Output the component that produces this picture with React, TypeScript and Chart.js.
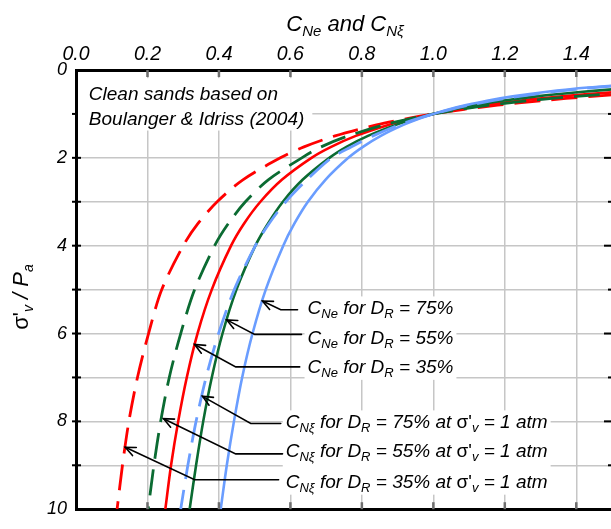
import React, { useEffect, useRef } from 'react';
import { Chart, registerables } from 'chart.js';

Chart.register(...registerables);

// ---- Data ----
// vertical effective stress sigma'v / Pa at which each curve was read
const stressLevels = [0.3, 0.4, 0.5, 0.6, 0.7, 0.8, 0.9, 1, 1.1, 1.25, 1.5, 1.75, 2, 2.5, 3, 3.5, 4, 5, 6, 7, 8, 9, 10];
// C_Ne curves (solid)
const cNeDr35 = [2.064, 1.736, 1.518, 1.360, 1.240, 1.144, 1.065, 1, 0.944, 0.874, 0.783, 0.714, 0.659, 0.576, 0.516, 0.470, 0.434, 0.380, 0.340, 0.310, 0.286, 0.266, 0.250];
const cNeDr55 = [1.819, 1.577, 1.411, 1.289, 1.194, 1.117, 1.054, 1, 0.954, 0.895, 0.817, 0.757, 0.709, 0.634, 0.579, 0.537, 0.502, 0.449, 0.410, 0.380, 0.356, 0.336, 0.318];
const cNeDr75 = [1.605, 1.433, 1.313, 1.222, 1.150, 1.092, 1.042, 1, 0.963, 0.916, 0.853, 0.803, 0.762, 0.698, 0.649, 0.611, 0.580, 0.531, 0.494, 0.465, 0.442, 0.422, 0.405];
// C_Nxi curves (dashed)
const cNxiDr35 = [2.23, 1.879, 1.631, 1.444, 1.299, 1.180, 1.082, 1, 0.930, 0.841, 0.725, 0.638, 0.572, 0.467, 0.395, 0.341, 0.300, 0.240, 0.203, 0.172, 0.148, 0.130, 0.115];
const cNxiDr55 = [2.19, 1.819, 1.576, 1.400, 1.266, 1.159, 1.072, 1, 0.939, 0.862, 0.762, 0.686, 0.632, 0.538, 0.474, 0.426, 0.388, 0.332, 0.293, 0.261, 0.237, 0.218, 0.202];
const cNxiDr75 = [1.606, 1.449, 1.332, 1.240, 1.165, 1.101, 1.047, 1, 0.958, 0.904, 0.831, 0.771, 0.715, 0.646, 0.587, 0.540, 0.502, 0.443, 0.399, 0.364, 0.336, 0.313, 0.293];

const xTickValues = [0, 0.2, 0.4, 0.6, 0.8, 1.0, 1.2, 1.4];
const xTickLabels = ['0.0', '0.2', '0.4', '0.6', '0.8', '1.0', '1.2', '1.4'];
const xMax = 1.5;
const yTickLabels = [0, 2, 4, 6, 8, 10];
const drLabels = ['75%', '55%', '35%'];
const noteLines = ['Clean sands based on', 'Boulanger & Idriss (2004)'];

// ---- Annotation placement (data units) ----
const noteAt = { x: 0.036, y: [0.687, 1.242] };
const cNeTextAt = { x: 0.648, y: [5.565, 6.231, 6.896] };
const cNxiTextAt = { x: 0.587, y: [8.16, 8.82, 9.51] };
const cNeArrows = [
  { x0: 0.620, x1: 0.573, y: 5.46, tip: [0.522, 5.26] },
  { x0: 0.631, x1: 0.500, y: 6.02, tip: [0.422, 5.69] },
  { x0: 0.626, x1: 0.447, y: 6.76, tip: [0.332, 6.25] },
];
const cNxiArrows = [
  { x0: 0.573, x1: 0.489, y: 8.05, tip: [0.354, 7.43] },
  { x0: 0.578, x1: 0.447, y: 8.74, tip: [0.245, 7.94] },
  { x0: 0.567, x1: 0.332, y: 9.33, tip: [0.138, 8.59] },
];

const RED = '#ff0000';
const GREEN = '#0b6b32';
const BLUE = '#6a9dff';
const GRID = '#c6c6c6';
const FAM = '"Liberation Sans", Arial, sans-serif';
const F = (size: number, italic = true) => `${italic ? 'italic ' : ''}${size}px ${FAM}`;

type Run = { t: string; font: string; dy?: number };

function runsWidth(ctx: CanvasRenderingContext2D, runs: Run[]) {
  let w = 0;
  for (const r of runs) { ctx.font = r.font; w += ctx.measureText(r.t).width; }
  return w;
}
function drawRuns(ctx: CanvasRenderingContext2D, runs: Run[], x: number, y: number) {
  let cx = x;
  for (const r of runs) {
    ctx.font = r.font;
    ctx.fillText(r.t, cx, y + (r.dy || 0));
    cx += ctx.measureText(r.t).width;
  }
  return cx - x;
}

function cNeRuns(dr: string): Run[] {
  return [
    { t: 'C', font: F(19) },
    { t: 'Ne', font: F(13), dy: 4 },
    { t: ' for D', font: F(19) },
    { t: 'R', font: F(13), dy: 4 },
    { t: ' = ' + dr, font: F(19) },
  ];
}
function cNxiRuns(dr: string): Run[] {
  return [
    { t: 'C', font: F(19) },
    { t: 'Nξ', font: F(13), dy: 4 },
    { t: ' for D', font: F(19) },
    { t: 'R', font: F(13), dy: 4 },
    { t: ' = ' + dr + ' at ', font: F(19) },
    { t: "σ'", font: F(19, false) },
    { t: 'v', font: F(13), dy: 4 },
    { t: ' = 1 atm', font: F(19) },
  ];
}

const decor = {
  id: 'decor',
  afterDatasetsDraw(chart: any) {
    const ctx: CanvasRenderingContext2D = chart.ctx;
    const xs = chart.scales.x;
    const ys = chart.scales.y;
    const ca = chart.chartArea;
    const px = (v: number) => xs.getPixelForValue(v);
    const py = (v: number) => ys.getPixelForValue(v);
    const line = (a: number, b: number, c: number, d: number) => {
      ctx.beginPath(); ctx.moveTo(a, b); ctx.lineTo(c, d); ctx.stroke();
    };
    ctx.save();
    // tick marks on the frame
    ctx.strokeStyle = '#6e6e6e';
    ctx.lineWidth = 2.5;
    for (const v of xTickValues) {
      if (v === 0) continue;
      line(px(v), ca.top, px(v), ca.top + 7);
      line(px(v), ca.bottom, px(v), ca.bottom - 7);
    }
    ctx.strokeStyle = '#000';
    ctx.lineWidth = 2;
    for (let v = 1; v < 10; v++) {
      line(ca.left - 4, py(v), ca.left + 5, py(v));
      line(ca.right - (v % 2 === 0 ? 8 : 4), py(v), ca.right, py(v));
    }

    ctx.fillStyle = '#000';
    ctx.textBaseline = 'alphabetic';
    ctx.textAlign = 'left';

    // note box + text
    {
      ctx.font = F(19);
      const w = Math.max(...noteLines.map((s) => ctx.measureText(s).width));
      const x = px(noteAt.x);
      const y0 = py(noteAt.y[0]);
      const y1 = py(noteAt.y[1]);
      ctx.fillStyle = '#fff';
      ctx.fillRect(ca.left + 2, y0 - 22, x - ca.left - 2 + w + 8, y1 - y0 + 28);
      ctx.fillStyle = '#000';
      noteLines.forEach((s, i) => ctx.fillText(s, x, py(noteAt.y[i])));
    }

    const group = (textAt: { x: number; y: number[] }, mk: (d: string) => Run[]) => {
      const x = px(textAt.x);
      const runs = drLabels.map(mk);
      const w = Math.max(...runs.map((r) => runsWidth(ctx, r)));
      const yTop = py(textAt.y[0]) - 18;
      const yBot = py(textAt.y[textAt.y.length - 1]) + 7;
      ctx.fillStyle = '#fff';
      ctx.fillRect(x - 3, yTop, w + 6, yBot - yTop);
      ctx.fillStyle = '#000';
      runs.forEach((r, i) => drawRuns(ctx, r, x, py(textAt.y[i])));
    };
    group(cNeTextAt, cNeRuns);
    group(cNxiTextAt, cNxiRuns);

    // arrows
    ctx.strokeStyle = '#000';
    ctx.lineWidth = 1.6;
    ctx.lineCap = 'round';
    const arrows = [...cNeArrows, ...cNxiArrows];
    for (const a of arrows) {
      const bx = px(a.x1), by = py(a.y);
      const tx = px(a.tip[0]), ty = py(a.tip[1]);
      ctx.beginPath();
      ctx.moveTo(px(a.x0), by);
      ctx.lineTo(bx, by);
      ctx.lineTo(tx, ty);
      ctx.stroke();
      const ang = Math.atan2(by - ty, bx - tx);
      const L = 11, sp = 0.42;
      ctx.beginPath();
      ctx.moveTo(tx + L * Math.cos(ang + sp), ty + L * Math.sin(ang + sp));
      ctx.lineTo(tx, ty);
      ctx.lineTo(tx + L * Math.cos(ang - sp), ty + L * Math.sin(ang - sp));
      ctx.stroke();
    }

    // top axis title
    {
      const runs: Run[] = [
        { t: 'C', font: F(22) },
        { t: 'Ne', font: F(15), dy: 5 },
        { t: ' and C', font: F(22) },
        { t: 'Nξ', font: F(15), dy: 5 },
      ];
      const w = runsWidth(ctx, runs);
      drawRuns(ctx, runs, (ca.left + ca.right) / 2 - w / 2 + 1, 31);
    }
    // left axis title
    {
      const runs: Run[] = [
        { t: "σ'", font: F(22, false) },
        { t: 'v', font: F(14), dy: 5 },
        { t: ' / P', font: F(22) },
        { t: 'a', font: F(14), dy: 5 },
      ];
      const w = runsWidth(ctx, runs);
      ctx.translate(28, 297);
      ctx.rotate(-Math.PI / 2);
      drawRuns(ctx, runs, -w / 2, 0);
    }
    ctx.restore();
  },
};

export default function App() {
  const ref = useRef<HTMLCanvasElement>(null);
  useEffect(() => {
    const canvas = ref.current!;
    const mk = (vals: number[]) => vals.map((x, i) => ({ x, y: stressLevels[i] }));
    const solid = (label: string, vals: number[], color: string) => ({
      label, data: mk(vals), borderColor: color, backgroundColor: color,
      borderWidth: 2.6, showLine: true, pointRadius: 0, tension: 0.3, fill: false,
    });
    const dashed = (label: string, vals: number[], color: string) => ({
      ...solid(label, vals, color), borderWidth: 2.8, borderDash: [26, 11],
    });
    const chart = new Chart(canvas, {
      type: 'scatter',
      data: {
        datasets: [
          solid('C_Ne DR = 75%', cNeDr75, BLUE),
          dashed('C_Nξ DR = 75%', cNxiDr75, BLUE),
          solid('C_Ne DR = 55%', cNeDr55, GREEN),
          dashed('C_Nξ DR = 55%', cNxiDr55, GREEN),
          solid('C_Ne DR = 35%', cNeDr35, RED),
          dashed('C_Nξ DR = 35%', cNxiDr35, RED),
        ] as any,
      },
      options: {
        responsive: false,
        animation: false,
        layout: { padding: 0 },
        plugins: { legend: { display: false }, tooltip: { enabled: false } },
        scales: {
          x: {
            type: 'linear', position: 'top', min: 0, max: xMax,
            afterBuildTicks: (s: any) => { s.ticks = [...xTickValues, xMax].map((value) => ({ value })); },
            ticks: {
              autoSkip: false, maxRotation: 0, padding: 4, color: '#000',
              font: { family: FAM, size: 19.5, style: 'italic' },
              callback: (v: any) => {
                const i = xTickValues.findIndex((t) => Math.abs(t - Number(v)) < 1e-6);
                return i >= 0 ? xTickLabels[i] : '';
              },
            },
            grid: { color: GRID, lineWidth: 1.5, drawTicks: false },
            border: { color: '#000', width: 3 },
            afterFit: (s: any) => { s.height = 70; },
          },
          x2: {
            type: 'linear', position: 'bottom', min: 0, max: xMax,
            ticks: { display: false },
            grid: { display: false },
            border: { color: '#000', width: 3 },
            afterFit: (s: any) => { s.height = 7; },
          },
          y: {
            type: 'linear', position: 'left', reverse: true, min: 0, max: 10,
            ticks: {
              stepSize: 1, autoSkip: false, padding: 9, color: '#000',
              font: { family: FAM, size: 18, style: 'italic' },
              callback: (v: any) => (yTickLabels.includes(Number(v)) ? String(v) : ''),
            },
            grid: { color: GRID, lineWidth: 1.5, drawTicks: false },
            border: { color: '#000', width: 3 },
            afterFit: (s: any) => { s.width = 76; },
          },
          y2: {
            type: 'linear', position: 'right', reverse: true, min: 0, max: 10,
            ticks: { display: false },
            grid: { display: false },
            border: { color: '#000', width: 3 },
            afterFit: (s: any) => { s.width = 3; },
          },
        },
      } as any,
      plugins: [decor as any],
    });
    return () => chart.destroy();
  }, []);
  return (
    <div style={{ position: 'absolute', left: 0, top: 0, width: 611, height: 529, overflow: 'hidden', background: '#fff' }}>
      <canvas ref={ref} width={616} height={529} style={{ display: 'block' }} />
    </div>
  );
}
